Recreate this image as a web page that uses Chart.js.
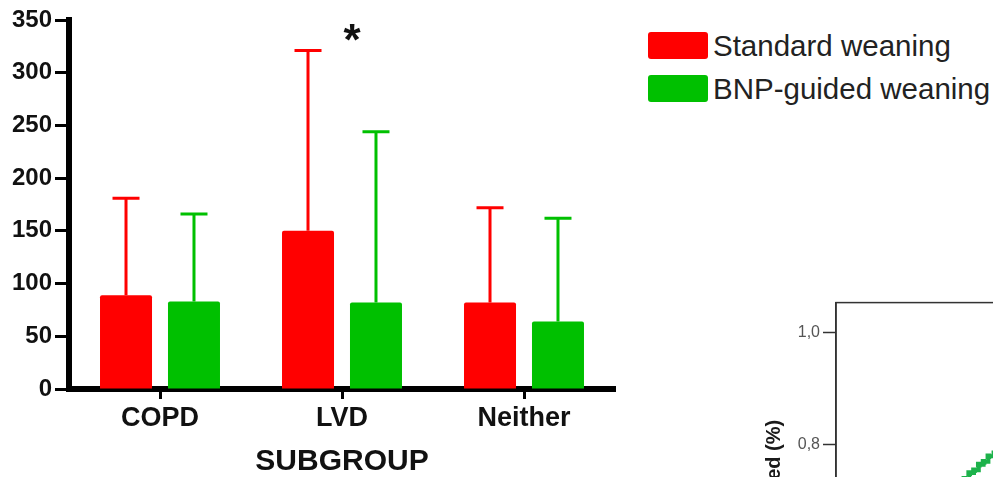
<!DOCTYPE html>
<html>
<head>
<meta charset="utf-8">
<title>BNP-guided weaning by subgroup</title>
<script src="https://cdn.jsdelivr.net/npm/chart.js@4.4.1/dist/chart.umd.min.js"></script>
<style>
  html, body { margin: 0; padding: 0; background: #fff; }
  body { width: 993px; height: 477px; overflow: hidden; position: relative; }
  #weaning-chart { position: absolute; left: 0; top: 0; }
  #curve-box { position: absolute; left: 760px; top: 290px; }
  #weaning-legend { position: absolute; left: 648px; top: 32px; }
  #weaning-legend ul { list-style: none; margin: 0; padding: 0; }
</style>
</head>
<body>
<canvas id="weaning-chart" width="640" height="477"></canvas>
<div id="weaning-legend"><ul></ul></div>
<div id="curve-box"><canvas id="wean-curve" width="440" height="605"></canvas></div>
<script>
// Data
const subgroups = ['COPD', 'LVD', 'Neither'];
const standardMean = [89, 150, 82];
const standardSD = [92, 171, 90];
const bnpMean = [83, 82, 64];
const bnpSD = [83, 162, 98];
const yTicks = [0, 50, 100, 150, 200, 250, 300, 350];
// significance marker over a subgroup
const sigGroups = ['LVD'];
const sigLevels = [317];

// Fragment of the neighbouring figure (only its corner is visible)
const curveDays = [9.8, 10.3, 10.7, 11.1, 11.5, 11.9, 12.3, 12.7, 13.2];
const curveWeaned = [0.72, 0.73, 0.74, 0.75, 0.755, 0.765, 0.77, 0.78, 0.785];
const curveTicks = [0.2, 0.4, 0.6, 0.8, 1.0];

const RED = '#ff0000';
const GREEN = '#00c000';
const CURVE_GREEN = '#1db24b';
const FONT = "'Liberation Sans', Arial, Helvetica, sans-serif";

Chart.defaults.font.family = FONT;

// Upper error bars (mean + SD), drawn under the bars
const errorBars = {
  id: 'errorBars',
  beforeDatasetsDraw(c) {
    const { ctx } = c;
    const y = c.scales.y;
    c.data.datasets.forEach((ds, i) => {
      const meta = c.getDatasetMeta(i);
      ctx.save();
      ctx.strokeStyle = ds.backgroundColor;
      ctx.lineWidth = 3;
      meta.data.forEach((bar, j) => {
        const top = y.getPixelForValue(ds.data[j] + ds.sd[j]);
        ctx.beginPath();
        ctx.moveTo(bar.x, bar.y);
        ctx.lineTo(bar.x, top);
        ctx.moveTo(bar.x - 13.5, top);
        ctx.lineTo(bar.x + 13.5, top);
        ctx.stroke();
      });
      ctx.restore();
    });
  },
};

// Asterisk for significant differences
const sigStars = {
  id: 'sigStars',
  afterDatasetsDraw(c) {
    const { ctx } = c;
    ctx.save();
    ctx.fillStyle = '#111';
    ctx.font = `bold 44px ${FONT}`;
    ctx.textAlign = 'center';
    ctx.textBaseline = 'alphabetic';
    sigGroups.forEach((g, i) => {
      const x = c.scales.x.getPixelForValue(subgroups.indexOf(g)) + 10;
      ctx.fillText('*', x, c.scales.y.getPixelForValue(sigLevels[i]));
    });
    ctx.restore();
  },
};

const htmlLegend = {
  id: 'htmlLegend',
  afterUpdate(c, args, options) {
    const legendContainer = document.getElementById(options.containerID);
    const ul = legendContainer.querySelector('ul');
    if (!ul) return;
    while (ul.firstChild) {
      ul.firstChild.remove();
    }
    const items = c.options.plugins.legend.labels.generateLabels(c);
    items.forEach((item) => {
      const li = document.createElement('li');
      li.style.display = 'flex';
      li.style.alignItems = 'center';
      li.style.height = '27px';
      li.style.marginBottom = '16px';
      // Color box
      const box = document.createElement('span');
      box.style.display = 'block';
      box.style.width = '60px';
      box.style.height = '27px';
      box.style.backgroundColor = item.fillStyle;
      box.style.borderRadius = '3px';
      box.style.marginRight = '5px';
      // Label
      const label = document.createElement('span');
      label.style.font = `29.5px ${FONT}`;
      label.style.color = '#222';
      label.style.whiteSpace = 'nowrap';
      label.appendChild(document.createTextNode(item.text));
      li.appendChild(box);
      li.appendChild(label);
      ul.appendChild(li);
    });
  },
};

const tickFont = (size) => ({ family: FONT, size, weight: 'bold' });

new Chart(document.getElementById('weaning-chart'), {
  type: 'bar',
  data: {
    labels: subgroups,
    datasets: [
      {
        label: 'Standard weaning',
        data: standardMean,
        sd: standardSD,
        backgroundColor: RED,
        borderRadius: { topLeft: 2, topRight: 2 },
        borderSkipped: 'bottom',
      },
      {
        label: 'BNP-guided weaning',
        data: bnpMean,
        sd: bnpSD,
        backgroundColor: GREEN,
        borderRadius: { topLeft: 2, topRight: 2 },
        borderSkipped: 'bottom',
      },
    ],
  },
  options: {
    responsive: false,
    animation: false,
    categoryPercentage: 0.747,
    barPercentage: 0.765,
    layout: {
      padding: { top: 20, right: 25, bottom: 0, left: 0 },
    },
    plugins: {
      legend: { display: false },
      tooltip: { enabled: false },
      htmlLegend: { containerID: 'weaning-legend' },
    },
    scales: {
      x: {
        z: 1,
        grid: {
          drawOnChartArea: false,
          offset: false,
          tickLength: 10,
          tickWidth: 3,
          tickColor: '#000',
        },
        border: { width: 6, color: '#000' },
        ticks: { color: '#111', font: tickFont(27), padding: 3 },
        title: {
          display: true,
          text: 'SUBGROUP',
          color: '#111',
          font: { family: FONT, size: 30, weight: 'bold', lineHeight: 1 },
          padding: 0,
        },
        afterFit(scale) { scale.height = 88; },
      },
      y: {
        z: 1,
        min: 0,
        max: 350,
        afterBuildTicks(scale) { scale.ticks = yTicks.map(v => ({ value: v })); },
        grid: {
          drawOnChartArea: false,
          tickLength: 14,
          tickWidth: 3,
          tickColor: '#000',
        },
        border: { width: 6, color: '#000' },
        ticks: { color: '#111', font: tickFont(24), padding: 3 },
        afterFit(scale) { scale.width = 69; },
      },
    },
  },
  plugins: [errorBars, sigStars, htmlLegend],
});

// Plot frame for the neighbouring figure
const frame = {
  id: 'frame',
  afterDraw(c) {
    const { ctx, chartArea: a } = c;
    ctx.save();
    ctx.strokeStyle = '#333';
    ctx.lineWidth = 1.5;
    ctx.strokeRect(a.left, a.top, a.right - a.left, a.bottom - a.top);
    ctx.restore();
  },
};

new Chart(document.getElementById('wean-curve'), {
  type: 'line',
  data: {
    datasets: [{
      data: curveDays.map((d, i) => ({ x: d, y: curveWeaned[i] })),
      stepped: true,
      borderColor: CURVE_GREEN,
      borderWidth: 4,
      pointStyle: 'rect',
      pointRadius: 4,
      pointBorderWidth: 0,
      pointBackgroundColor: CURVE_GREEN,
    }],
  },
  options: {
    responsive: false,
    animation: false,
    layout: { padding: { top: 10, right: 0, bottom: 0, left: 0 } },
    plugins: {
      legend: { display: false },
      tooltip: { enabled: false },
    },
    scales: {
      x: {
        type: 'linear',
        min: 0,
        max: 30,
        ticks: { display: false },
        grid: { display: false },
        border: { color: '#333', width: 1.5 },
        afterFit(scale) { scale.height = 28; },
      },
      y: {
        min: 0.05,
        max: 1.053,
        afterBuildTicks(scale) { scale.ticks = curveTicks.map(v => ({ value: v })); },
        ticks: {
          callback: v => v.toFixed(1).replace('.', ','),
          color: '#555',
          font: { family: FONT, size: 16 },
          padding: 3,
        },
        grid: { drawOnChartArea: false, tickLength: 13, tickWidth: 1.5, tickColor: '#333' },
        border: { color: '#333', width: 1.5 },
        title: {
          display: true,
          text: 'Cumulative proportion weaned (%)',
          color: '#1a1a1a',
          font: { family: FONT, size: 20, weight: 'bold' },
          padding: { top: 2, bottom: 0 },
        },
        afterFit(scale) { scale.width = 76; },
      },
    },
  },
  plugins: [frame],
});
</script>
</body>
</html>
